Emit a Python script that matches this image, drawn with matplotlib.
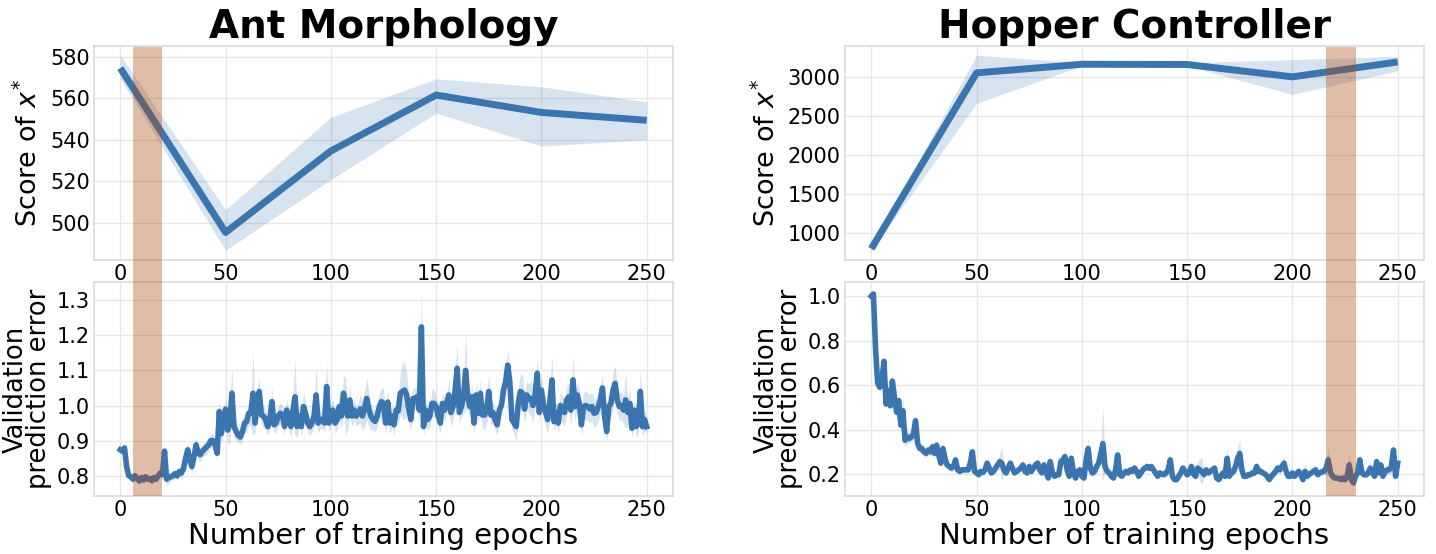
import matplotlib
matplotlib.use("Agg")
import matplotlib.pyplot as plt
import numpy as np
from matplotlib.patches import Rectangle
import matplotlib.transforms as mtrans

# ---------------- data ----------------
titles = ["Ant Morphology", "Hopper Controller"]
score_epochs = [0, 50, 100, 150, 200, 250]

ant_score = [574.6, 495.3, 534.6, 561.6, 553.2, 549.4]
ant_score_lo = [569.4, 486.7, 520.8, 552.9, 537.0, 540.0]
ant_score_hi = [580.8, 506.2, 550.9, 569.4, 565.6, 558.3]

hop_score = [795, 3059, 3170, 3167, 3008, 3200]
hop_score_lo = [775, 2667, 3150, 3150, 2782, 3085]
hop_score_hi = [815, 3286, 3190, 3190, 3230, 3273]

ant_err = [
    0.874, 0.870, 0.879, 0.826, 0.800, 0.797, 0.790, 0.800, 0.793, 0.785,
    0.795, 0.788, 0.797, 0.790, 0.792, 0.786, 0.795, 0.790, 0.800, 0.808,
    0.803, 0.870, 0.790, 0.795, 0.797, 0.800, 0.806, 0.800, 0.812, 0.808,
    0.820, 0.850, 0.874, 0.845, 0.826, 0.855, 0.888, 0.864, 0.860, 0.870,
    0.876, 0.882, 0.888, 0.900, 0.900, 0.888, 0.864, 0.983, 0.920, 0.960,
    0.990, 0.930, 0.950, 1.035, 0.940, 0.926, 0.915, 0.910, 0.926, 0.950,
    0.954, 0.978, 0.978, 1.035, 0.950, 1.006, 1.040, 0.973, 0.970, 0.960,
    0.940, 0.960, 1.011, 0.945, 0.950, 0.970, 0.978, 0.973, 0.940, 0.987,
    0.960, 0.940, 0.987, 1.025, 0.940, 0.970, 0.940, 0.997, 0.978, 0.950,
    0.940, 0.950, 0.970, 1.030, 0.950, 0.960, 0.960, 0.950, 1.054, 0.950,
    0.970, 0.987, 0.950, 0.960, 0.997, 0.970, 1.035, 0.997, 0.970, 1.016,
    0.970, 0.987, 0.970, 0.978, 0.990, 0.970, 0.990, 1.020, 0.990, 0.970,
    0.960, 0.955, 0.970, 0.997, 1.011, 1.006, 0.950, 1.010, 0.950, 0.970,
    0.945, 0.987, 0.985, 1.035, 1.040, 1.044, 1.030, 0.990, 0.960, 1.020,
    1.020, 1.025, 0.987, 1.224, 0.940, 0.987, 0.960, 0.970, 1.006, 1.006,
    0.997, 0.970, 0.950, 1.006, 0.987, 1.006, 1.030, 0.980, 0.997, 1.044,
    1.106, 0.980, 0.997, 1.025, 1.100, 1.025, 0.997, 1.025, 0.950, 1.030,
    0.978, 1.035, 0.973, 0.973, 0.987, 1.040, 0.973, 0.980, 0.960, 0.945,
    0.987, 1.000, 1.044, 1.068, 1.115, 1.068, 0.960, 0.950, 0.940, 1.006,
    1.040, 1.035, 0.990, 1.030, 1.020, 1.020, 1.000, 1.030, 1.092, 0.980,
    1.044, 1.000, 0.980, 0.960, 1.010, 1.073, 0.954, 0.980, 0.950, 1.000,
    0.990, 0.980, 1.016, 1.025, 0.987, 1.073, 0.997, 1.030, 1.006, 0.945,
    0.997, 1.000, 0.997, 0.990, 0.997, 0.978, 0.980, 0.997, 1.016, 1.050,
    0.970, 0.926, 0.997, 1.006, 1.044, 1.063, 1.016, 0.997, 1.000, 0.987,
    1.016, 0.980, 1.006, 0.935, 0.987, 0.940, 0.950, 1.040, 0.940, 0.960,
    0.940]

ant_err_sd = [
    0.010, 0.010, 0.012, 0.012, 0.010, 0.010, 0.010, 0.010, 0.010, 0.010,
    0.010, 0.010, 0.010, 0.010, 0.010, 0.010, 0.010, 0.010, 0.010, 0.012,
    0.015, 0.030, 0.020, 0.015, 0.012, 0.012, 0.012, 0.012, 0.015, 0.015,
    0.015, 0.020, 0.020, 0.020, 0.020, 0.025, 0.020, 0.020, 0.020, 0.020,
    0.020, 0.020, 0.020, 0.020, 0.020, 0.020, 0.020, 0.030, 0.030, 0.030,
    0.030, 0.040, 0.060, 0.070, 0.030, 0.025, 0.020, 0.020, 0.025, 0.025,
    0.030, 0.030, 0.040, 0.120, 0.030, 0.040, 0.040, 0.030, 0.030, 0.025,
    0.025, 0.030, 0.040, 0.025, 0.025, 0.030, 0.030, 0.025, 0.025, 0.030,
    0.030, 0.030, 0.040, 0.110, 0.030, 0.030, 0.025, 0.045, 0.030, 0.025,
    0.025, 0.025, 0.030, 0.080, 0.030, 0.025, 0.025, 0.025, 0.070, 0.025,
    0.030, 0.030, 0.030, 0.030, 0.040, 0.040, 0.050, 0.080, 0.040, 0.040,
    0.030, 0.030, 0.030, 0.030, 0.040, 0.040, 0.050, 0.060, 0.050, 0.040,
    0.030, 0.030, 0.030, 0.040, 0.040, 0.040, 0.030, 0.040, 0.030, 0.030,
    0.030, 0.030, 0.040, 0.060, 0.080, 0.080, 0.060, 0.040, 0.030, 0.030,
    0.030, 0.030, 0.030, 0.100, 0.030, 0.030, 0.030, 0.030, 0.040, 0.040,
    0.030, 0.030, 0.030, 0.030, 0.030, 0.030, 0.040, 0.040, 0.040, 0.050,
    0.070, 0.030, 0.030, 0.050, 0.110, 0.040, 0.030, 0.040, 0.030, 0.040,
    0.030, 0.040, 0.040, 0.040, 0.040, 0.050, 0.030, 0.030, 0.030, 0.030,
    0.030, 0.030, 0.040, 0.040, 0.040, 0.040, 0.030, 0.030, 0.040, 0.050,
    0.050, 0.050, 0.040, 0.040, 0.040, 0.050, 0.050, 0.040, 0.040, 0.030,
    0.040, 0.040, 0.040, 0.040, 0.050, 0.070, 0.030, 0.030, 0.030, 0.040,
    0.040, 0.040, 0.040, 0.040, 0.040, 0.070, 0.040, 0.040, 0.040, 0.030,
    0.040, 0.040, 0.040, 0.040, 0.040, 0.040, 0.040, 0.040, 0.040, 0.040,
    0.030, 0.030, 0.040, 0.040, 0.050, 0.050, 0.040, 0.040, 0.040, 0.040,
    0.080, 0.040, 0.040, 0.030, 0.030, 0.030, 0.030, 0.060, 0.030, 0.030,
    0.020]

hop_err = [
    1.000, 1.010, 0.766, 0.610, 0.590, 0.620, 0.707, 0.515, 0.574, 0.507,
    0.618, 0.544, 0.478, 0.530, 0.420, 0.485, 0.352, 0.367, 0.360, 0.367,
    0.380, 0.440, 0.337, 0.315, 0.315, 0.300, 0.293, 0.308, 0.300, 0.322,
    0.293, 0.330, 0.286, 0.249, 0.315, 0.270, 0.241, 0.234, 0.227, 0.234,
    0.264, 0.219, 0.212, 0.219, 0.219, 0.219, 0.219, 0.249, 0.300, 0.212,
    0.205, 0.197, 0.212, 0.207, 0.219, 0.249, 0.227, 0.205, 0.212, 0.227,
    0.241, 0.256, 0.249, 0.219, 0.205, 0.227, 0.249, 0.227, 0.205, 0.212,
    0.219, 0.227, 0.241, 0.212, 0.205, 0.234, 0.212, 0.227, 0.241, 0.249,
    0.219, 0.205, 0.241, 0.212, 0.182, 0.256, 0.205, 0.190, 0.197, 0.197,
    0.256, 0.264, 0.278, 0.219, 0.190, 0.271, 0.205, 0.182, 0.212, 0.219,
    0.190, 0.182, 0.264, 0.315, 0.227, 0.205, 0.212, 0.234, 0.249, 0.293,
    0.337, 0.234, 0.212, 0.205, 0.190, 0.182, 0.219, 0.286, 0.197, 0.190,
    0.205, 0.212, 0.205, 0.219, 0.212, 0.227, 0.212, 0.190, 0.205, 0.219,
    0.227, 0.234, 0.226, 0.234, 0.219, 0.205, 0.190, 0.205, 0.200, 0.197,
    0.205, 0.220, 0.264, 0.190, 0.175, 0.175, 0.190, 0.205, 0.227, 0.212,
    0.197, 0.205, 0.234, 0.200, 0.190, 0.227, 0.219, 0.212, 0.197, 0.219,
    0.205, 0.212, 0.219, 0.227, 0.182, 0.175, 0.190, 0.205, 0.190, 0.271,
    0.190, 0.205, 0.212, 0.234, 0.271, 0.293, 0.219, 0.190, 0.190, 0.197,
    0.197, 0.205, 0.205, 0.234, 0.212, 0.212, 0.205, 0.200, 0.190, 0.175,
    0.190, 0.200, 0.212, 0.227, 0.219, 0.234, 0.249, 0.212, 0.190, 0.190,
    0.205, 0.190, 0.200, 0.212, 0.197, 0.175, 0.212, 0.190, 0.200, 0.205,
    0.212, 0.219, 0.197, 0.205, 0.210, 0.212, 0.227, 0.264, 0.212, 0.190,
    0.182, 0.182, 0.180, 0.175, 0.182, 0.175, 0.190, 0.241, 0.175, 0.160,
    0.190, 0.205, 0.264, 0.205, 0.197, 0.197, 0.205, 0.227, 0.205, 0.190,
    0.256, 0.205, 0.241, 0.190, 0.212, 0.219, 0.219, 0.234, 0.308, 0.190,
    0.249]

hop_err_sd = [
    0.005, 0.010, 0.020, 0.020, 0.020, 0.020, 0.030, 0.020, 0.030, 0.020,
    0.030, 0.020, 0.030, 0.030, 0.030, 0.070, 0.030, 0.030, 0.020, 0.020,
    0.030, 0.030, 0.020, 0.020, 0.020, 0.020, 0.020, 0.020, 0.020, 0.030,
    0.020, 0.020, 0.020, 0.015, 0.020, 0.015, 0.015, 0.015, 0.015, 0.020,
    0.020, 0.015, 0.012, 0.015, 0.015, 0.015, 0.015, 0.015, 0.020, 0.015,
    0.012, 0.012, 0.012, 0.012, 0.012, 0.020, 0.015, 0.012, 0.012, 0.015,
    0.020, 0.040, 0.080, 0.020, 0.012, 0.015, 0.020, 0.015, 0.012, 0.012,
    0.015, 0.015, 0.020, 0.015, 0.012, 0.030, 0.015, 0.015, 0.020, 0.020,
    0.015, 0.012, 0.020, 0.015, 0.012, 0.030, 0.015, 0.012, 0.012, 0.015,
    0.030, 0.030, 0.030, 0.015, 0.012, 0.030, 0.015, 0.012, 0.015, 0.015,
    0.012, 0.015, 0.040, 0.050, 0.020, 0.015, 0.015, 0.020, 0.020, 0.040,
    0.170, 0.020, 0.015, 0.012, 0.012, 0.015, 0.020, 0.050, 0.015, 0.012,
    0.015, 0.015, 0.012, 0.015, 0.012, 0.015, 0.012, 0.012, 0.012, 0.015,
    0.015, 0.015, 0.015, 0.015, 0.015, 0.012, 0.012, 0.012, 0.012, 0.012,
    0.015, 0.020, 0.030, 0.015, 0.012, 0.012, 0.012, 0.015, 0.015, 0.015,
    0.012, 0.015, 0.020, 0.015, 0.015, 0.030, 0.050, 0.060, 0.015, 0.015,
    0.012, 0.012, 0.015, 0.015, 0.012, 0.012, 0.012, 0.015, 0.015, 0.050,
    0.015, 0.015, 0.020, 0.030, 0.050, 0.060, 0.015, 0.012, 0.012, 0.012,
    0.012, 0.012, 0.015, 0.020, 0.015, 0.015, 0.015, 0.015, 0.012, 0.012,
    0.012, 0.015, 0.020, 0.020, 0.020, 0.020, 0.030, 0.015, 0.012, 0.012,
    0.012, 0.012, 0.015, 0.015, 0.015, 0.012, 0.030, 0.015, 0.015, 0.015,
    0.015, 0.015, 0.012, 0.015, 0.015, 0.015, 0.030, 0.060, 0.015, 0.012,
    0.012, 0.012, 0.012, 0.012, 0.012, 0.012, 0.015, 0.050, 0.015, 0.015,
    0.015, 0.020, 0.030, 0.015, 0.015, 0.015, 0.020, 0.030, 0.015, 0.015,
    0.030, 0.015, 0.030, 0.015, 0.020, 0.020, 0.020, 0.030, 0.040, 0.015,
    0.015]

highlight = [(6, 20), (216, 230)]

ant_score_ticks = [500, 520, 540, 560, 580]
hop_score_ticks = [1000, 1500, 2000, 2500, 3000]
ant_err_ticks = [0.8, 0.9, 1.0, 1.1, 1.2, 1.3]
hop_err_ticks = [0.2, 0.4, 0.6, 0.8, 1.0]
x_ticks = [0, 50, 100, 150, 200, 250]

# ---------------- style ----------------
BLUE = "#3a75af"
BAND = "#ae4a0d"
plt.rcParams["font.family"] = ["DejaVu Sans"]

fig = plt.figure(figsize=(14.36, 5.54), dpi=100)

lefts = [94 / 1436, 845 / 1436]
width = 579 / 1436
top_b, top_h = 1 - 260 / 554, 214.5 / 554
bot_b, bot_h = 1 - 496 / 554, 214 / 554


def style(ax):
    ax.set_facecolor("white")
    for s in ax.spines.values():
        s.set_color("#dadada")
        s.set_linewidth(1.2)
    ax.grid(True, color="#e6e6e6", linewidth=1.0)
    ax.set_axisbelow(True)
    ax.tick_params(length=0, labelsize=15, pad=3, colors="black")


epochs = np.arange(len(ant_err))
score_data = [(ant_score, ant_score_lo, ant_score_hi, ant_score_ticks),
              (hop_score, hop_score_lo, hop_score_hi, hop_score_ticks)]
err_data = [(ant_err, ant_err_sd, ant_err_ticks),
            (hop_err, hop_err_sd, hop_err_ticks)]

for col in range(2):
    ax_t = fig.add_axes([lefts[col], top_b, width, top_h])
    ax_b = fig.add_axes([lefts[col], bot_b, width, bot_h])
    style(ax_t)
    style(ax_b)

    m, lo, hi, yt = score_data[col]
    ax_t.fill_between(score_epochs, lo, hi, color=BLUE, alpha=0.2, lw=0)
    ax_t.plot(score_epochs, m, color=BLUE, lw=5, solid_capstyle="butt")
    ax_t.set_xticks(x_ticks)
    ax_t.set_yticks(yt)
    ax_t.set_ylabel("Score of $x^{*}$", fontsize=19.5, labelpad=5)
    ax_t.set_title(titles[col], fontsize=28, fontweight="bold", pad=5)

    em, esd, eyt = err_data[col]
    em = np.array(em)
    esd = np.array(esd)
    ax_b.fill_between(epochs, em - esd, em + esd, color=BLUE, alpha=0.2, lw=0)
    ax_b.plot(epochs, em, color=BLUE, lw=4)
    ax_b.set_xticks(x_ticks)
    ax_b.set_yticks(eyt)
    ax_b.set_ylabel("Validation\nprediction error", fontsize=18.5,
                    linespacing=0.9, labelpad=3)
    ax_b.set_xlabel("Number of training epochs", fontsize=21, labelpad=1)

    ax_t.set_xlim(-12.5, 262.5)
    ax_b.set_xlim(-12.5, 262.5)

    # highlight band spanning both panels
    x0, x1 = highlight[col]
    tr = mtrans.blended_transform_factory(ax_b.transData, fig.transFigure)
    rect = Rectangle((x0, bot_b), x1 - x0, top_b + top_h - bot_b - 0.002,
                     transform=tr, facecolor=BAND, alpha=0.36, lw=0,
                     zorder=10)
    fig.add_artist(rect)

fig.savefig("out.png", dpi=100)
